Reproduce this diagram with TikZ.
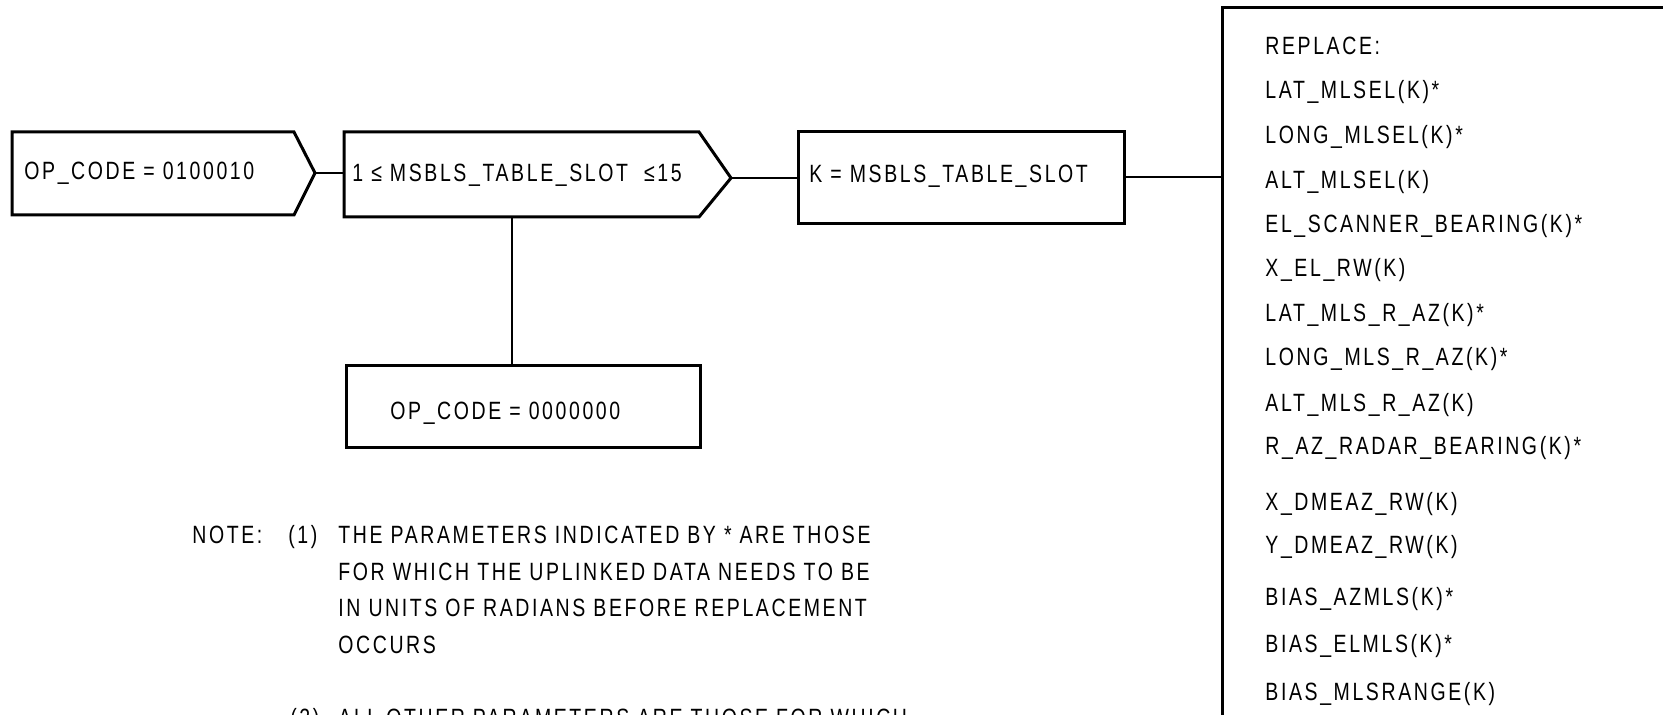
\documentclass[tikz,border=0pt]{standalone}
\usepackage{fontspec}
\setmainfont{Liberation Sans}[FakeStretch=0.78,LetterSpace=10.4]
\begin{document}
\begin{tikzpicture}[x=0.5pt,y=-0.5pt,
  box/.style={draw, line width=1.5pt, line join=miter},
  rbox/.style={box, inner sep=0pt, anchor=north west},
  conn/.style={draw, line width=1pt},
  txt/.style={font=\fontsize{12.5}{15}\selectfont, inner sep=0pt, anchor=base west}]
\useasboundingbox (0,0) rectangle (1663,715);
\fill[white] (0,0) rectangle (1663,715);
% box 1
\draw[box] (12,132) -- (294,132) -- (315,173) -- (294,215) -- (12,215) -- cycle;
\coordinate (b1tip) at (315,173);
\node[txt] (t1) at (24,180) {OP\_CODE = 0100010};
% box 2
\draw[box] (344,132) -- (699,132) -- (731,178) -- (699,217) -- (344,217) -- cycle;
\coordinate (b2w) at (344,173);
\coordinate (b2tip) at (731,178);
\coordinate (b2s) at (512,217);
\node[txt] (t2) at (352,182) {1 ≤ MSBLS\_TABLE\_SLOT \ ≤15};
% box 3
\node[rbox, minimum width=163pt, minimum height=46pt] (k) at (797,130) {};
\node[txt] (t3) at (809,183) {K = MSBLS\_TABLE\_SLOT};
% box 5
\node[rbox, minimum width=177pt, minimum height=41pt] (z) at (345,364) {};
\node[txt] (t5) at (390,420) {OP\_CODE = 0000000};
% box 4
\coordinate (r) at (1222,180);
\draw[box] (1222,760) -- (1222,8) -- (1720,8);
\node[txt] (r1) at (1265,55) {REPLACE:};
\node[txt] (r2) at (1265,99) {LAT\_MLSEL(K)*};
\node[txt] (r3) at (1265,144) {LONG\_MLSEL(K)*};
\node[txt] (r4) at (1265,189) {ALT\_MLSEL(K)};
\node[txt] (r5) at (1265,233) {EL\_SCANNER\_BEARING(K)*};
\node[txt] (r6) at (1265,277) {X\_EL\_RW(K)};
\node[txt] (r7) at (1265,322) {LAT\_MLS\_R\_AZ(K)*};
\node[txt] (r8) at (1265,366) {LONG\_MLS\_R\_AZ(K)*};
\node[txt] (r9) at (1265,412) {ALT\_MLS\_R\_AZ(K)};
\node[txt] (r10) at (1265,455) {R\_AZ\_RADAR\_BEARING(K)*};
\node[txt] (r11) at (1265,510) {X\_DMEAZ\_RW(K)};
\node[txt] (r12) at (1265,553) {Y\_DMEAZ\_RW(K)};
\node[txt] (r13) at (1265,605) {BIAS\_AZMLS(K)*};
\node[txt] (r14) at (1265,652) {BIAS\_ELMLS(K)*};
\node[txt] (r15) at (1265,700) {BIAS\_MLSRANGE(K)};
% connectors
\draw[conn] (b1tip) -- (b2w);
\draw[conn] (b2tip) -- (b2tip -| k.west);
\draw[conn] (k.east) -- (k.east -| r);
\draw[conn] (b2s) -- (b2s |- z.north);
% notes
\node[txt] (n0) at (192,543) {NOTE:};
\node[txt] (n1) at (288,543) {(1)};
\node[txt] (l1) at (338,543) {THE PARAMETERS INDICATED BY * ARE THOSE};
\node[txt] (l2) at (338,580) {FOR WHICH THE UPLINKED DATA NEEDS TO BE};
\node[txt] (l3) at (338,616) {IN UNITS OF RADIANS BEFORE REPLACEMENT};
\node[txt] (l4) at (338,653) {OCCURS};
\node[txt] (n2) at (290,726) {(2)};
\node[txt] (l5) at (338,726) {ALL OTHER PARAMETERS ARE THOSE FOR WHICH};
\end{tikzpicture}
\end{document}
